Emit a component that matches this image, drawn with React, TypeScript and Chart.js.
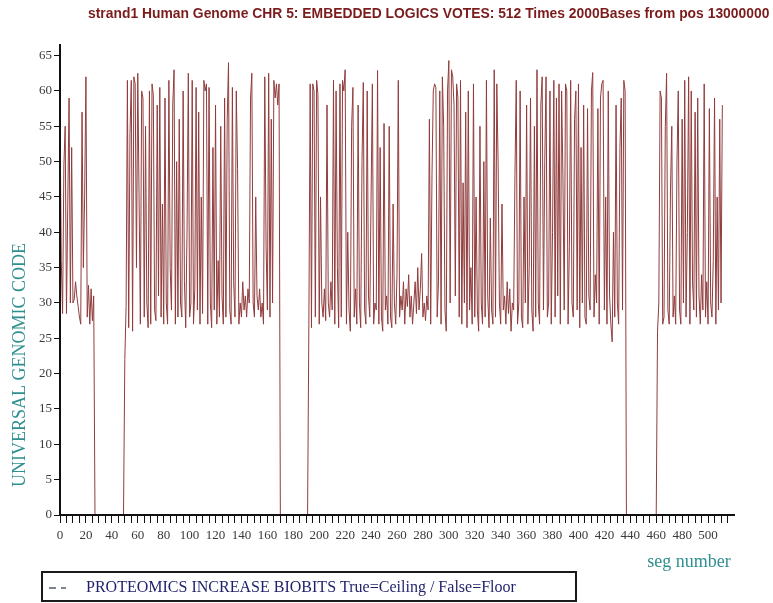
import React, { useEffect, useRef } from 'react';
import { Chart, registerables } from 'chart.js';

Chart.register(...registerables);

const TITLE = 'strand1 Human Genome CHR 5: EMBEDDED LOGICS VOTES: 512 Times 2000Bases from pos 13000000';
const Y_TITLE = 'UNIVERSAL GENOMIC CODE';
const X_TITLE = 'seg number';
const SERIES_LABEL = 'PROTEOMICS INCREASE BIOBITS True=Ceiling / False=Floor';

// seg 0..26
const segA = [57, 36, 28.5, 49.5, 55, 28.5, 44, 59, 30, 52, 30, 30.5, 33, 31, 29.5, 28, 27, 57, 35, 45, 62, 28, 32.5, 27, 32, 27.5, 31];
// seg 27..49
const gapA = [0, 0, 0, 0, 0, 0, 0, 0, 0, 0, 0, 0, 0, 0, 0, 0, 0, 0, 0, 0, 0, 0, 0];
// seg 50..169
const segB = [
  22, 29.5, 61.5, 26.5, 54, 61.5, 26, 62, 61, 35,
  62.5, 45, 27, 60, 59, 28, 55, 30, 26.5, 60,
  27, 61, 59.5, 29, 27.5, 58, 31, 60.5, 28, 44,
  27, 59, 30, 27, 61.5, 35, 29, 58, 63, 27,
  50, 28, 56, 30, 28, 60, 33, 26.5, 40, 62.5,
  28, 30, 61.5, 27, 32, 60.5, 29, 57, 27, 45,
  28.5, 61.5, 60, 61, 27, 60.5, 30, 26.5, 52, 29,
  58, 27, 36, 28, 55, 31, 27, 59, 28, 56,
  64, 29, 27, 60.5, 33, 28, 60, 49, 27, 30,
  28, 33, 29, 31, 28, 32, 30, 59, 62.5, 30,
  28, 45, 31, 29, 32, 28, 30, 27, 62, 38,
  29, 62.5, 28, 56, 30, 61.5, 59, 61, 58, 61,
];
// seg 170..191
const gapB = [0, 0, 0, 0, 0, 0, 0, 0, 0, 0, 0, 0, 0, 0, 0, 0, 0, 0, 0, 0, 0, 0];
// seg 192..436
const segC = [
  27, 61, 26.5, 61, 60, 28, 61.5, 59.5, 27, 45,
  30, 28, 32, 27.5, 58, 30, 28, 33, 29, 61.5,
  27, 60, 35, 26.5, 61, 28, 61.5, 60, 63, 27,
  40, 29, 26, 55, 60.5, 28, 32, 27, 58, 30,
  26.5, 50, 61.2, 29, 27, 60, 31, 28, 45, 61,
  27, 30, 29, 62.9, 27, 52, 28, 26, 55.4, 29,
  31, 27, 55, 28, 26.5, 44, 30, 27, 34, 61.5,
  28, 31, 29, 33, 27, 32, 29.5, 34, 28, 31,
  27, 30, 33, 28.5, 35, 29, 32, 37, 28, 30,
  27.5, 31, 29, 56, 27, 48, 60, 61, 60.5, 28,
  33, 60, 27, 62, 55, 29, 26, 60, 64.3, 30,
  63, 62, 58, 31, 61, 59, 28, 61.5, 27, 47,
  30, 57, 26.5, 60, 29, 35, 27, 61, 28, 45,
  29, 26, 55, 30, 27, 50, 28, 61.5, 31, 26.5,
  42, 29, 27, 63, 28, 61, 50, 30, 27, 44,
  29, 31, 27, 33, 28.5, 32, 26, 30, 29, 48,
  61.5, 27, 30, 60, 28, 26.5, 45, 30, 58, 27,
  35, 59, 29, 26, 55, 28, 63, 30, 27, 58,
  62, 29, 50, 62, 28, 30, 60, 27, 40, 61.5,
  28, 59, 31, 61, 27, 60, 48, 29, 61, 60,
  27, 38, 61.5, 30, 28, 56, 60, 29, 61, 26.5,
  52, 30, 58, 28, 27, 57.5, 31, 29, 60, 62.6,
  28, 34, 30, 57.5, 27, 59, 61, 61.5, 29, 45,
  27, 60, 31, 27, 24.5, 40, 28, 58, 30, 27,
  52, 59, 29, 61.5, 60,
];
// seg 437..460
const gapC = [0, 0, 0, 0, 0, 0, 0, 0, 0, 0, 0, 0, 0, 0, 0, 0, 0, 0, 0, 0, 0, 0, 0, 0];
// seg 461..511
const segD = [
  26, 30, 60, 59, 27, 28, 55, 62.5, 29, 27,
  46, 55, 28, 31, 27, 50, 60, 29, 27, 56,
  30, 61.5, 28, 40, 62, 27, 60, 33, 29, 57,
  28, 59, 31, 27, 34, 29, 61, 28, 33, 27,
  57.5, 30, 28, 36, 59, 27, 45, 29, 56, 30,
  58,
];

const Y_TICKS = [0, 5, 10, 15, 20, 25, 30, 35, 40, 45, 50, 55, 60, 65];
const X_MIN = 0;
const X_MAX = 520;
const X_LAST_TICK = 515;
const X_TICK_STEP = 5;
const X_LABEL_STEP = 20;
const X_LAST_LABEL = 500;
const Y_MIN = 0;
const Y_MAX = 66.5;

const textPlugin = {
  id: 'extraText',
  afterDatasetsDraw(chart: any) {
    // redraw the axis lines on top of the series, as in the reference
    const ctx: CanvasRenderingContext2D = chart.ctx;
    const a = chart.chartArea;
    ctx.save();
    ctx.strokeStyle = '#111';
    ctx.lineWidth = 2;
    ctx.beginPath();
    ctx.moveTo(a.left, a.bottom);
    ctx.lineTo(a.right, a.bottom);
    ctx.moveTo(a.left, a.top);
    ctx.lineTo(a.left, a.bottom);
    ctx.stroke();
    ctx.restore();
  },
  afterDraw(chart: any) {
    const ctx: CanvasRenderingContext2D = chart.ctx;
    ctx.save();
    // title
    ctx.fillStyle = '#7b1c1c';
    ctx.textBaseline = 'middle';
    ctx.textAlign = 'left';
    ctx.font = 'bold 14px "Liberation Sans", Arial, sans-serif';
    const tw = ctx.measureText(TITLE).width;
    const tsize = 14 * 682 / tw;
    ctx.font = `bold ${tsize.toFixed(2)}px "Liberation Sans", Arial, sans-serif`;
    ctx.fillText(TITLE, 88, 14);

    // y title
    ctx.save();
    ctx.translate(20, 365);
    ctx.rotate(-Math.PI / 2);
    ctx.textAlign = 'center';
    ctx.fillStyle = '#2f8f8f';
    ctx.font = '18px "Liberation Serif", "Times New Roman", serif';
    ctx.fillText(Y_TITLE, 0, 0);
    ctx.restore();

    // x title
    ctx.textAlign = 'center';
    ctx.fillStyle = '#2f8f8f';
    ctx.font = '18px "Liberation Serif", "Times New Roman", serif';
    ctx.fillText(X_TITLE, 689, 562);

    // legend box
    ctx.strokeStyle = '#1a1a1a';
    ctx.lineWidth = 2;
    ctx.strokeRect(42, 572, 534, 29);
    ctx.strokeStyle = '#555a70';
    ctx.lineWidth = 1.5;
    ctx.beginPath();
    ctx.moveTo(49, 588); ctx.lineTo(56, 588);
    ctx.moveTo(61, 588); ctx.lineTo(66, 588);
    ctx.stroke();
    const label = chart.data.datasets[0].label as string;
    ctx.textAlign = 'left';
    ctx.fillStyle = '#1f1f6b';
    ctx.font = '15px "Liberation Serif", "Times New Roman", serif';
    const lw = ctx.measureText(label).width;
    const lsize = 15 * 430 / lw;
    ctx.font = `${lsize.toFixed(2)}px "Liberation Serif", "Times New Roman", serif`;
    ctx.fillText(label, 86, 588);
    ctx.restore();
  },
};

export default function App() {
  const ref = useRef<HTMLCanvasElement>(null);
  useEffect(() => {
    document.body.style.margin = '0';
    const values = [...segA, ...gapA, ...segB, ...gapB, ...segC, ...gapC, ...segD];
    const points = values.map((v, i) => ({ x: i, y: v }));
    const tickFont = { family: '"Liberation Serif", "Times New Roman", serif', size: 13 };
    const chart = new Chart(ref.current as HTMLCanvasElement, {
      type: 'line',
      data: {
        datasets: [
          {
            label: SERIES_LABEL,
            data: points,
            borderColor: '#913c3c',
            borderWidth: 1,
            pointRadius: 0,
            tension: 0,
            fill: false,
          },
        ],
      },
      options: {
        responsive: false,
        animation: false,
        layout: { padding: { left: 0, right: 39, top: 45, bottom: 0 } },
        plugins: {
          legend: { display: false },
          title: { display: false },
          tooltip: { enabled: false },
        },
        scales: {
          x: {
            type: 'linear',
            min: X_MIN,
            max: X_MAX,
            afterBuildTicks: (s: any) => {
              const t: { value: number }[] = [];
              for (let v = X_MIN; v <= X_LAST_TICK; v += X_TICK_STEP) t.push({ value: v });
              s.ticks = t;
            },
            afterFit: (s: any) => {
              s.height = 88;
            },
            ticks: {
              autoSkip: false,
              maxRotation: 0,
              minRotation: 0,
              padding: 5,
              color: '#3a3a3a',
              font: tickFont,
              callback: (v: any) => (v % X_LABEL_STEP === 0 && v <= X_LAST_LABEL ? String(v) : ''),
            },
            grid: { drawOnChartArea: false, drawTicks: true, tickLength: 8, color: '#111', lineWidth: 1 },
            border: { color: '#111', width: 2 },
          },
          y: {
            type: 'linear',
            min: Y_MIN,
            max: Y_MAX,
            afterBuildTicks: (s: any) => {
              s.ticks = Y_TICKS.map((v) => ({ value: v }));
            },
            afterFit: (s: any) => {
              s.width = 60;
            },
            ticks: {
              padding: 2,
              color: '#3a3a3a',
              font: tickFont,
            },
            grid: { drawOnChartArea: false, drawTicks: true, tickLength: 6, color: '#111', lineWidth: 1 },
            border: { color: '#111', width: 2 },
          },
        },
      },
      plugins: [textPlugin],
    });
    return () => chart.destroy();
  }, []);
  return <canvas ref={ref} width={773} height={603} style={{ display: 'block' }} />;
}
